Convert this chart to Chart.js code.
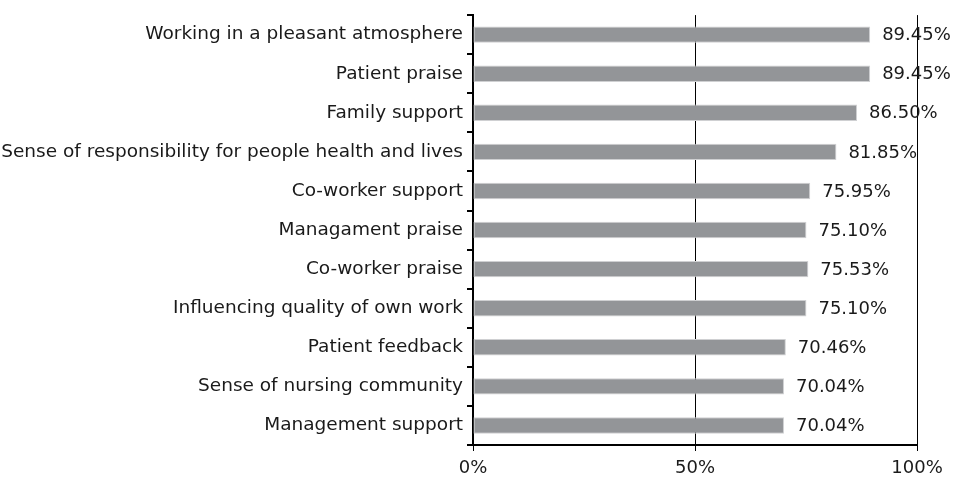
<!DOCTYPE html>
<html>
<head>
<meta charset="utf-8">
<script src="https://cdn.jsdelivr.net/npm/chart.js@4/dist/chart.umd.min.js"></script>
<style>
html,body{margin:0;padding:0;background:#fff;}
#wrap{width:963px;height:481px;}
</style>
</head>
<body>
<div id="wrap"><canvas id="c" width="963" height="481"></canvas></div>
<script>
const categories = [
  "Working in a pleasant atmosphere",
  "Patient praise",
  "Family support",
  "Sense of responsibility for people health and lives",
  "Co-worker support",
  "Managament praise",
  "Co-worker praise",
  "Influencing quality of own work",
  "Patient feedback",
  "Sense of nursing community",
  "Management support"
];
const values = [89.45, 89.45, 86.50, 81.85, 75.95, 75.10, 75.53, 75.10, 70.46, 70.04, 70.04];
const xTicks = [0, 50, 100];

const FONT = "'DejaVu Sans', sans-serif";

const valueLabels = {
  id: 'valueLabels',
  afterDatasetsDraw(chart) {
    const ctx = chart.ctx;
    const meta = chart.getDatasetMeta(0);
    ctx.save();
    ctx.font = "18px " + FONT;
    ctx.fillStyle = "#1a1a1a";
    ctx.textAlign = "left";
    ctx.textBaseline = "middle";
    meta.data.forEach((el, i) => {
      ctx.fillText(values[i].toFixed(2) + "%", el.x + 12, el.y + 1);
    });
    ctx.restore();
  }
};

new Chart(document.getElementById('c'), {
  type: 'bar',
  data: {
    labels: categories,
    datasets: [{
      data: values,
      backgroundColor: '#939598',
      borderColor: '#cfd0d2',
      borderWidth: 1,
      borderSkipped: false,
      barPercentage: 0.42,
      categoryPercentage: 1.0
    }]
  },
  options: {
    indexAxis: 'y',
    responsive: false,
    animation: false,
    devicePixelRatio: 1,
    layout: { padding: { left: 0, right: 46, top: 12, bottom: 0 } },
    plugins: { legend: { display: false }, tooltip: { enabled: false } },
    scales: {
      x: {
        min: 0, max: 100,
        afterBuildTicks(axis) { axis.ticks = xTicks.map(v => ({ value: v })); },
        afterFit(axis) { axis.height = 36; },
        ticks: {
          callback: v => v + '%',
          color: '#1a1a1a',
          font: { family: FONT, size: 18 },
          padding: 7,
          maxRotation: 0
        },
        grid: { color: '#000', lineWidth: 1, drawTicks: true, tickLength: 6, tickColor: '#000' },
        border: { color: '#000', width: 2 }
      },
      y: {
        afterFit(axis) { axis.width = 473; },
        ticks: {
          color: '#1a1a1a',
          font: { family: FONT, size: 18.5 },
          padding: 4,
          autoSkip: false
        },
        grid: { offset: true, drawOnChartArea: false, drawTicks: true, tickLength: 6, tickColor: '#000', lineWidth: 2 },
        border: { color: '#000', width: 2 }
      }
    }
  },
  plugins: [valueLabels]
});
</script>
</body>
</html>
